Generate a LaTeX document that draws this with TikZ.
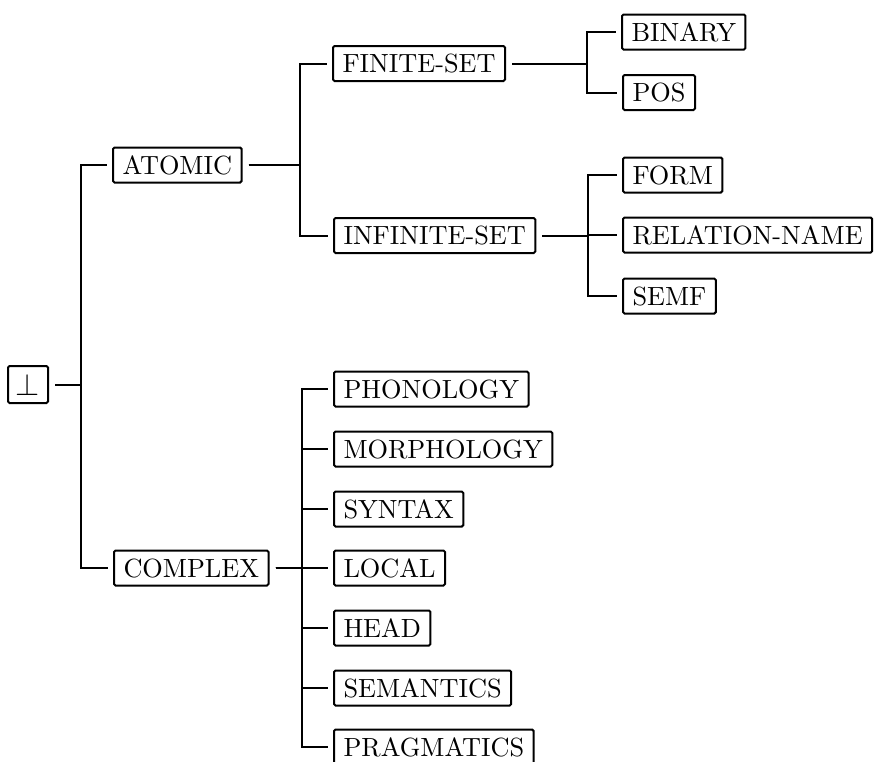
\documentclass[tikz,border=0pt]{standalone}
\usepackage{fix-cm}
\usepackage{fontspec}
\setmainfont{lmroman10-regular}[Extension=.otf]
\begin{document}
\begin{tikzpicture}[x=1pt,y=-1pt,
  box/.style={draw, line width=2pt, rounded corners=1.5pt, anchor=west,
    font=\fontsize{26.3}{31}\selectfont, inner xsep=9.5pt, inner ysep=8.5pt,
    text height=18pt, text depth=0pt},
  conn/.style={line width=2pt}]
\useasboundingbox (0,0) rectangle (874,761);
% branch coordinates
\coordinate (b0) at (81,0);
\coordinate (b1) at (300,0);
\coordinate (b2) at (587,0);
\coordinate (b3) at (588,0);
\coordinate (b4) at (302,0);
% nodes
\node[draw, line width=2pt, rounded corners=1.5pt, minimum width=40pt, minimum height=37pt, inner sep=0pt,
  font=\fontsize{31}{36}\selectfont] (root) at (28,384.5) {$\bot$};
\node[box] (atomic) at (112,165) {ATOMIC};
\node[box] (complex) at (113,568) {COMPLEX};
\node[box] (finite) at (332,63.5) {FINITE-SET};
\node[box] (infinite) at (333,235.5) {INFINITE-SET};
\node[box] (binary) at (621,32) {BINARY};
\node[box] (pos) at (622,92.5) {POS};
\node[box] (form) at (622,175) {FORM};
\node[box] (relname) at (622,235) {RELATION-NAME};
\node[box] (semf) at (622,296) {SEMF};
\node[box] (phon) at (333,389) {PHONOLOGY};
\node[box] (morph) at (333,449) {MORPHOLOGY};
\node[box] (syntax) at (333,509) {SYNTAX};
\node[box] (local) at (333,568) {LOCAL};
\node[box] (head) at (333,628) {HEAD};
\node[box] (sem) at (333,688) {SEMANTICS};
\node[box] (prag) at (333,747) {PRAGMATICS};
% connectors
\foreach \c in {atomic,complex}
  \draw[conn] ([xshift=6pt]root.east) -- (root.east -| b0) |- ([xshift=-5pt]\c.west);
\foreach \c in {finite,infinite}
  \draw[conn] ([xshift=6pt]atomic.east) -- (atomic.east -| b1) |- ([xshift=-5pt]\c.west);
\foreach \c in {binary,pos}
  \draw[conn] ([xshift=6pt]finite.east) -- (finite.east -| b2) |- ([xshift=-5pt]\c.west);
\foreach \c in {form,relname,semf}
  \draw[conn] ([xshift=6pt]infinite.east) -- (infinite.east -| b3) |- ([xshift=-5pt]\c.west);
\foreach \c in {phon,morph,syntax,local,head,sem,prag}
  \draw[conn] ([xshift=6pt]complex.east) -- (complex.east -| b4) |- ([xshift=-5pt]\c.west);
\end{tikzpicture}
\end{document}
